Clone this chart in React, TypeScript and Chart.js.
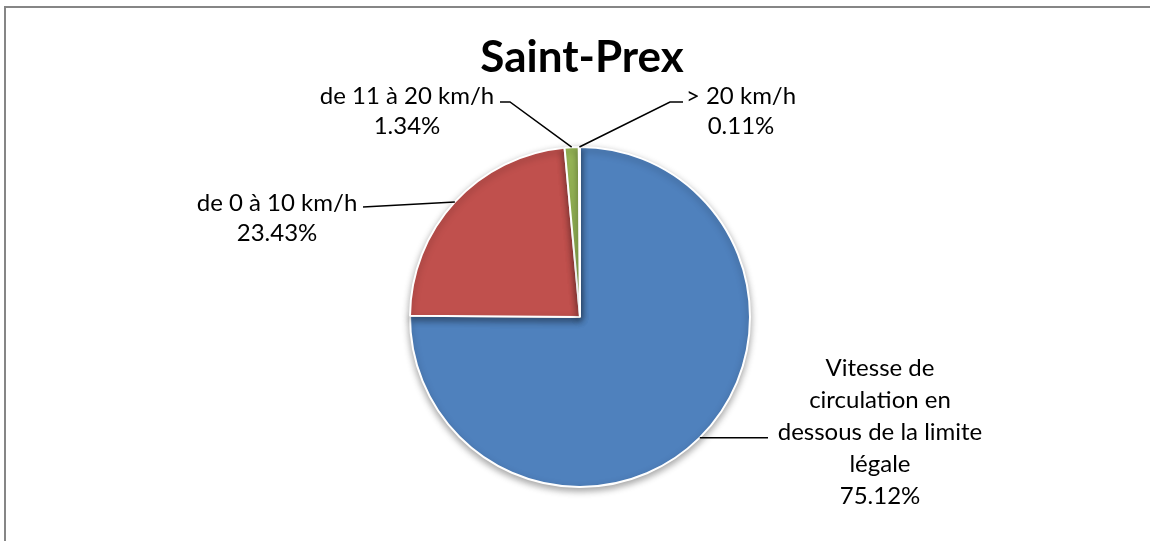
import React, { useEffect, useRef } from "react";
import { Chart, registerables } from "chart.js";

Chart.register(...registerables);

const categories = [
  "Vitesse de circulation en dessous de la limite légale",
  "de 0 à 10 km/h",
  "de 11 à 20 km/h",
  "> 20 km/h",
];
const values = [75.12, 23.43, 1.34, 0.11];
const colors = ["#4F81BD", "#C0504D", "#9BBB59", "#8064A2"];
const title = "Saint-Prex";

// label text lines (category name wrapped + percentage)
const labelLines = [
  ["Vitesse de", "circulation en", "dessous de la limite", "légale"],
  ["de 0 à 10 km/h"],
  ["de 11 à 20 km/h"],
  ["> 20 km/h"],
];

// label layout: text centre x, first line y, line spacing, leader elbow points
const labelLayout = [
  { cx: 880, y0: 368, dy: 32, elbow: [] as number[][], end: [768, null as number | null] },
  { cx: 277, y0: 203, dy: 30, elbow: [], end: [363, 207] },
  { cx: 407, y0: 96, dy: 30, elbow: [[510, 102]], end: [500, 102] },
  { cx: 741, y0: 96, dy: 30, elbow: [[670, 102]], end: [683, 102] },
];

const FONT = "Lato, 'Noto Sans', sans-serif";

const decorPlugin = {
  id: "decor",
  beforeDraw(chart: any) {
    const ctx = chart.ctx;
    ctx.save();
    ctx.fillStyle = "#ffffff";
    ctx.fillRect(0, 0, chart.width, chart.height);
    ctx.strokeStyle = "#868686";
    ctx.lineWidth = 2;
    ctx.strokeRect(5, 7, chart.width + 20, chart.height + 20);
    ctx.restore();
  },
  beforeDatasetsDraw(chart: any) {
    const ctx = chart.ctx;
    ctx.save();
    ctx.shadowColor = "rgba(0,0,0,0.35)";
    ctx.shadowBlur = 7;
    ctx.shadowOffsetX = 0;
    ctx.shadowOffsetY = 3;
  },
  afterDatasetsDraw(chart: any) {
    const ctx = chart.ctx;
    ctx.restore();
    const meta = chart.getDatasetMeta(0);
    ctx.save();
    // title
    ctx.fillStyle = "#000";
    ctx.font = "bold 44px " + FONT;
    ctx.textAlign = "center";
    ctx.textBaseline = "alphabetic";
    ctx.fillText(title, 582, 72);

    meta.data.forEach((arc: any, i: number) => {
      const p = arc.getProps(["x", "y", "startAngle", "endAngle", "outerRadius"], true);
      const mid = (p.startAngle + p.endAngle) / 2;
      const ax = p.x + Math.cos(mid) * p.outerRadius;
      const ay = p.y + Math.sin(mid) * p.outerRadius;
      const lay = labelLayout[i];
      // leader line
      ctx.strokeStyle = "#000";
      ctx.lineWidth = 1.5;
      ctx.beginPath();
      ctx.moveTo(ax, ay);
      lay.elbow.forEach((pt) => ctx.lineTo(pt[0], pt[1]));
      const ex = lay.end[0] as number;
      const ey = lay.end[1] == null ? ay : (lay.end[1] as number);
      ctx.lineTo(ex, ey);
      ctx.stroke();
      // text
      ctx.fillStyle = "#000";
      ctx.font = "24px " + FONT;
      ctx.textAlign = "center";
      ctx.textBaseline = "middle";
      const lines = [...labelLines[i], values[i].toFixed(2) + "%"];
      lines.forEach((t, k) => ctx.fillText(t, lay.cx, lay.y0 + k * lay.dy));
    });
    ctx.restore();
  },
};

export default function App() {
  const ref = useRef<HTMLCanvasElement>(null);
  useEffect(() => {
    if (!ref.current) return;
    const chart = new Chart(ref.current, {
      type: "pie",
      data: {
        labels: categories,
        datasets: [
          {
            data: values,
            backgroundColor: colors,
            borderColor: "#ffffff",
            borderWidth: 2,
          },
        ],
      },
      options: {
        responsive: false,
        animation: false,
        radius: 170,
        layout: { padding: { left: 240, right: 230, top: 140, bottom: 47 } },
        plugins: {
          legend: { display: false },
          tooltip: { enabled: false },
          title: { display: false },
        },
      } as any,
      plugins: [decorPlugin],
    });
    return () => chart.destroy();
  }, []);
  return (
    <div style={{ position: "fixed", left: 0, top: 0, width: 1150, height: 541 }}>
      <canvas ref={ref} width={1150} height={541} style={{ width: 1150, height: 541 }} />
    </div>
  );
}
